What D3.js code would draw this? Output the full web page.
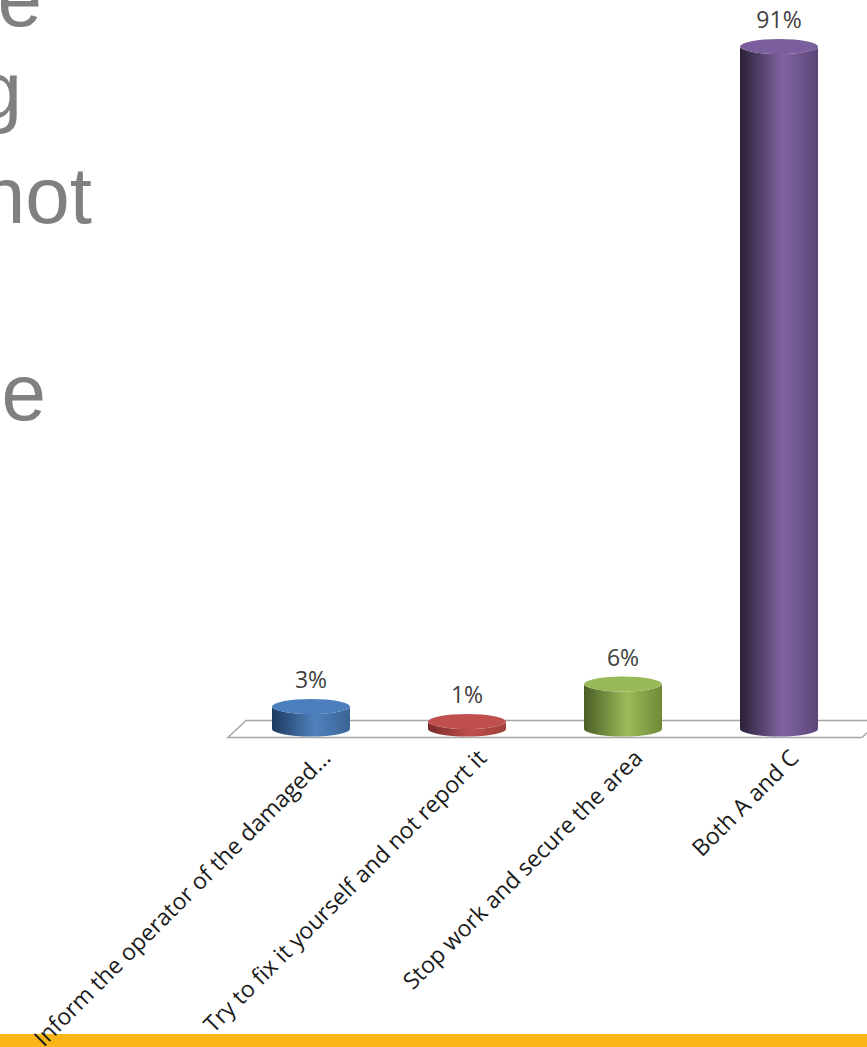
<!DOCTYPE html>
<html>
<head>
<meta charset="utf-8">
<script src="https://cdn.jsdelivr.net/npm/d3@7"></script>
<style>
  body { margin: 0; background: #fff; }
  svg { display: block; }
</style>
</head>
<body>
<svg id="chart" width="867" height="1047"></svg>
<script>
// chart data
const categories = [
  'Inform the operator of the damaged...',
  'Try to fix it yourself and not report it',
  'Stop work and secure the area',
  'Both A and C'
];
const values = [3, 1, 6, 91];
const valueLabels = ['3%', '1%', '6%', '91%'];

// the cut-off slide text on the left
const slideFragments = ['e', 'g', 'not', 'e'];
const fragmentPos = [[42, 26], [22, 117], [92, 223], [46, 420]];

// cylinder colours: [dark left, light, right, top]
const palette = [
  ['#1f3a5f', '#4f81bd', '#3a6496', '#4a7ebd'],
  ['#7a2a28', '#c0504d', '#a03f3c', '#c0504d'],
  ['#4b5e26', '#9bbb59', '#6f8a38', '#98b957'],
  ['#2a2138', '#8064a2', '#5c4678', '#7a5e9d']
];

const width = 867, height = 1047;
const svg = d3.select('#chart');

const x = d3.scaleBand()
  .domain(categories)
  .range([233, 857])
  .paddingInner(0.5)
  .paddingOuter(0.25);

const y = d3.scaleLinear()
  .domain([0, 100])
  .range([729, -21]);

const rx = x.bandwidth() / 2;
const ry = 7.5;

// slide text
svg.selectAll('.frag').data(slideFragments).enter()
  .append('text')
    .attr('class', 'frag')
    .attr('x', (d, i) => fragmentPos[i][0])
    .attr('y', (d, i) => fragmentPos[i][1])
    .attr('text-anchor', 'end')
    .attr('font-family', '"Liberation Sans", Arial, sans-serif')
    .attr('font-size', 80)
    .attr('fill', '#808080')
    .text(d => d);

// gradients
const defs = svg.append('defs');
palette.forEach((p, i) => {
  const g = defs.append('linearGradient')
    .attr('id', 'side' + i)
    .attr('x1', 0).attr('x2', 1).attr('y1', 0).attr('y2', 0);
  g.append('stop').attr('offset', '0%').attr('stop-color', p[0]);
  g.append('stop').attr('offset', '55%').attr('stop-color', p[1]);
  g.append('stop').attr('offset', '100%').attr('stop-color', p[2]);
});

// floor
const floorDepth = 17, floorSkew = 18;
const fx0 = x.range()[0] - 5, fx1 = x.range()[1] + 5;
const fy = y(0) + floorDepth / 2;
svg.append('path')
  .attr('d', `M${fx0},${fy} L${fx0 + floorSkew},${fy - floorDepth} L${fx1 + floorSkew},${fy - floorDepth} L${fx1},${fy} Z`)
  .attr('fill', '#fff')
  .attr('stroke', '#a6a6a6')
  .attr('stroke-width', 1.5);

// cylinders
const bars = svg.selectAll('.bar').data(values).enter()
  .append('g').attr('class', 'bar');

bars.append('path')
  .attr('d', (d, i) => {
    const cx = x(categories[i]) + rx;
    const yt = y(d), yb = y(0);
    return `M${cx - rx},${yt} L${cx - rx},${yb} A${rx},${ry} 0 0 0 ${cx + rx},${yb} ` +
      `L${cx + rx},${yt} A${rx},${ry} 0 0 1 ${cx - rx},${yt} Z`;
  })
  .attr('fill', (d, i) => `url(#side${i})`);

bars.append('ellipse')
  .attr('cx', (d, i) => x(categories[i]) + rx)
  .attr('cy', d => y(d))
  .attr('rx', rx)
  .attr('ry', ry)
  .attr('fill', (d, i) => palette[i][3]);

// value labels
svg.selectAll('.val').data(values).enter()
  .append('text')
    .attr('class', 'val')
    .attr('x', (d, i) => x(categories[i]) + rx)
    .attr('y', d => y(d) - ry - 11)
    .attr('text-anchor', 'middle')
    .attr('font-family', '"Open Sans", sans-serif')
    .attr('font-size', 23)
    .attr('fill', '#404040')
    .text((d, i) => valueLabels[i]);

// yellow strip at the bottom of the slide
svg.append('rect')
  .attr('x', 0).attr('y', 1034)
  .attr('width', width).attr('height', height - 1034)
  .attr('fill', '#fbb517');

// category labels
svg.selectAll('.cat').data(categories).enter()
  .append('text')
    .attr('class', 'cat')
    .attr('transform', d => `translate(${x(d) + rx + 21},${fy + 22}) rotate(-45)`)
    .attr('text-anchor', 'end')
    .attr('font-family', '"Open Sans", sans-serif')
    .attr('font-size', 23)
    .attr('fill', '#1a1a1a')
    .text(d => d);
</script>
</body>
</html>
